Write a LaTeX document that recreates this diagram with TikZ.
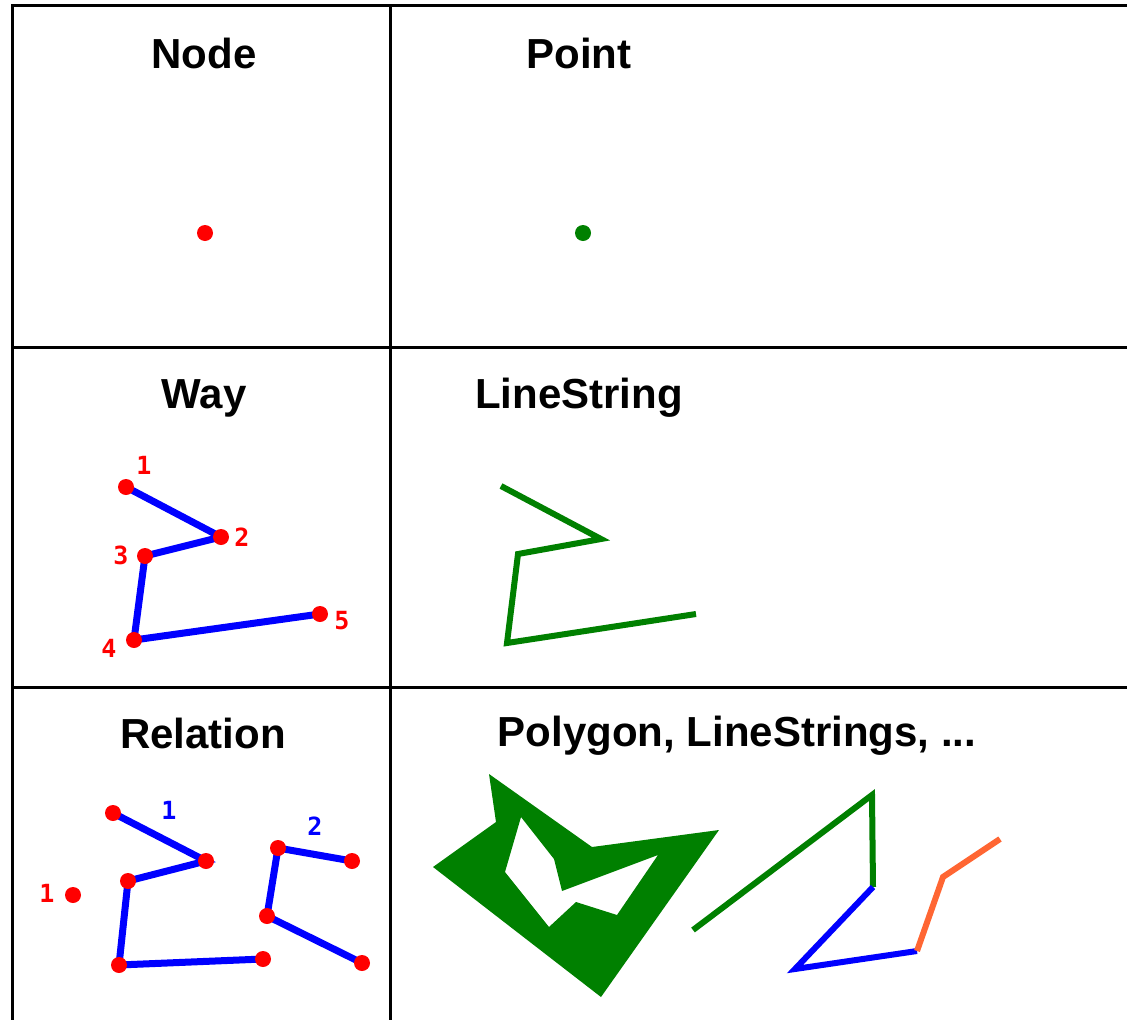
\documentclass[tikz,border=0pt]{standalone}
\usepackage{fontspec}
\setmainfont{Liberation Sans}
\newfontfamily\labfont{DejaVu Sans Mono}[BoldFont={DejaVu Sans Mono Bold}]
\definecolor{osmred}{RGB}{255,0,0}
\definecolor{osmblue}{RGB}{0,0,255}
\definecolor{osmgreen}{RGB}{0,128,0}
\definecolor{osmorange}{RGB}{255,102,51}
\tikzset{
  reddot/.style={circle,fill=osmred,inner sep=0pt,minimum size=16pt},
  greendot/.style={circle,fill=osmgreen,inner sep=0pt,minimum size=16pt},
  title/.style={font=\fontsize{42}{42}\selectfont\bfseries,inner sep=0pt,anchor=base},
  rlab/.style={font=\labfont\bfseries\fontsize{25}{25}\selectfont,text=osmred,inner sep=0pt},
  blab/.style={font=\labfont\bfseries\fontsize{25}{25}\selectfont,text=osmblue,inner sep=0pt},
  wayline/.style={draw=osmblue,line width=7pt},
  gline/.style={draw=osmgreen,line width=6pt},
  grid/.style={draw=black,line width=3pt}
}
\begin{document}
\begin{tikzpicture}[x=1pt,y=-1pt]
\useasboundingbox (0,0) rectangle (1127,1020);
% grid
\coordinate (tl) at (12,5);
\coordinate (tr) at (1127,5);
\coordinate (bl) at (12,1020);
\coordinate (mt) at (390,5);
\coordinate (mb) at (390,1020);
\coordinate (h1l) at (12,347);
\coordinate (h1r) at (1127,347);
\coordinate (h2l) at (12,687);
\coordinate (h2r) at (1127,687);
\draw[grid] (tr) -- (tl) -- (bl);
\draw[grid] (mt) -- (mb);
\draw[grid] (h1l) -- (h1r);
\draw[grid] (h2l) -- (h2r);
% titles
\node[title] (tNode) at (204,68) {Node};
\node[title] (tPoint) at (579,68) {Point};
\node[title] (tWay) at (204,408) {Way};
\node[title] (tLS) at (579,408) {LineString};
\node[title] (tRel) at (203,748) {Relation};
\node[title] (tPoly) at (737,746) {Polygon, LineStrings, ...};
% node / point
\node[reddot] (n0) at (205,233) {};
\node[greendot] (p0) at (583,233) {};
% way
\coordinate (w1) at (126,487);
\coordinate (w2) at (221,537);
\coordinate (w3) at (145,556);
\coordinate (w4) at (134,640);
\coordinate (w5) at (320,614);
\draw[wayline,line join=round] (w1) -- (w2) -- (w3) -- (w4) -- (w5);
\foreach \p in {w1,w2,w3,w4,w5} \node[reddot] (d\p) at (\p) {};
\node[rlab] (l1) at (144,465) {1};
\node[rlab] (l2) at (242,537) {2};
\node[rlab] (l3) at (121,555) {3};
\node[rlab] (l4) at (109,648) {4};
\node[rlab] (l5) at (342,621) {5};
% linestring
\coordinate (s1) at (501,486);
\coordinate (s2) at (601,539);
\coordinate (s3) at (518,554);
\coordinate (s4) at (507,643);
\coordinate (s5) at (696,614);
\draw[gline] (s1) -- (s2) -- (s3) -- (s4) -- (s5);
% relation
\coordinate (r1) at (113,813);
\coordinate (r2) at (206,861);
\coordinate (r3) at (128,881);
\coordinate (r4) at (119,965);
\coordinate (r5) at (263,959);
\coordinate (q1) at (278,848);
\coordinate (q2) at (352,861);
\coordinate (q3) at (267,916);
\coordinate (q4) at (362,963);
\draw[wayline] (r1) -- (r2) -- (r3) -- (r4) -- (r5);
\draw[wayline] (q2) -- (q1) -- (q3) -- (q4);
\foreach \p in {r1,r2,r3,r4,r5,q1,q2,q3,q4} \node[reddot] (d\p) at (\p) {};
\node[reddot] (lone) at (73,895) {};
\node[rlab] (ll) at (47,893) {1};
\node[blab] (bl1) at (169,810) {1};
\node[blab] (bl2) at (315,826) {2};
% polygon with hole
\fill[osmgreen,even odd rule]
  (489,774) -- (496,822) -- (433,867) -- (601,997) -- (719,830) -- (592,847) -- cycle
  (521,817) -- (554,859) -- (562,891) -- (658,855) -- (617,915) -- (576,902) -- (549,927) -- (505,872) -- cycle;
% linestrings
\coordinate (g1) at (693,930);
\coordinate (g2) at (872,795);
\coordinate (g3) at (873,887);
\coordinate (b2) at (795,969);
\coordinate (b3) at (917,951);
\coordinate (o2) at (943,877);
\coordinate (o3) at (1000,839);
\draw[gline] (g1) -- (g2) -- (g3);
\draw[draw=osmblue,line width=6pt] (g3) -- (b2) -- (b3);
\draw[draw=osmorange,line width=6pt] (b3) -- (o2) -- (o3);
\end{tikzpicture}
\end{document}
